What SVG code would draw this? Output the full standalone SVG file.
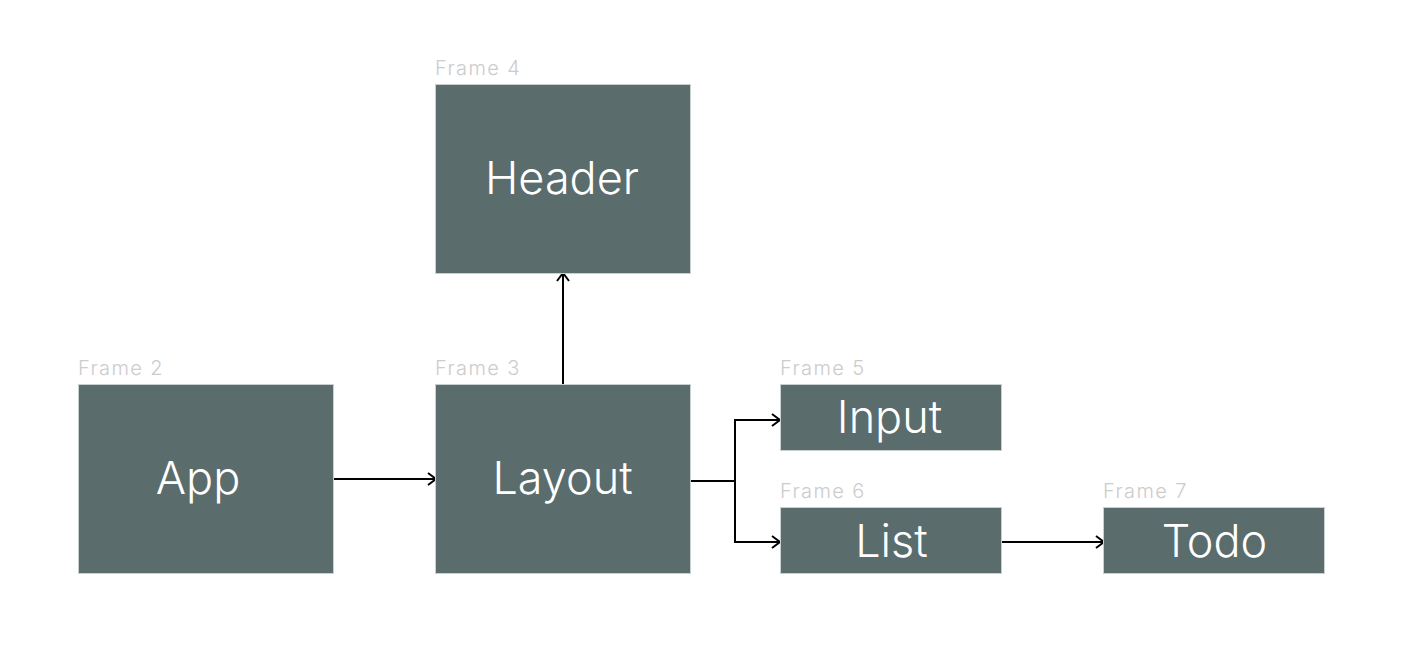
<svg xmlns="http://www.w3.org/2000/svg" width="1422" height="646" viewBox="0 0 1422 646">
<style>
.box{fill:#5a6c6c;stroke:#c9d0d0;stroke-width:1}
.lbl{font-family:Inter,"Liberation Sans",sans-serif;font-size:45px;font-weight:300;fill:#ffffff;text-anchor:middle}
.frm{font-family:Inter,"Liberation Sans",sans-serif;font-size:20px;font-weight:300;letter-spacing:1.4px;fill:#cccccc}
.con{fill:none;stroke:#000;stroke-width:2;marker-end:url(#arr)}
</style>
<defs>
<marker id="arr" viewBox="0 0 10 14" refX="9" refY="7" markerWidth="10" markerHeight="14" markerUnits="userSpaceOnUse" orient="auto">
<path d="M1,1 L9,7 L1,13" fill="none" stroke="#000" stroke-width="2"/>
</marker>
</defs>
<rect width="1422" height="646" fill="#ffffff"/>
<g id="connectors">
<path class="con" d="M333,479 H436"/>
<path class="con" d="M563,384 V273"/>
<path class="con" d="M690,481 H735 V420 H780"/>
<path class="con" d="M690,481 H735 V542 H780"/>
<path class="con" d="M1001,542 H1104"/>
</g>
<g id="frame2">
<text class="frm" x="78" y="375">Frame 2</text>
<rect class="box" x="78.5" y="384.5" width="255" height="189"/>
<text class="lbl" x="198" y="494">App</text>
</g>
<g id="frame3">
<text class="frm" x="435" y="375">Frame 3</text>
<rect class="box" x="435.5" y="384.5" width="255" height="189"/>
<text class="lbl" x="562.5" y="494">Layout</text>
</g>
<g id="frame4">
<text class="frm" x="435" y="75">Frame 4</text>
<rect class="box" x="435.5" y="84.5" width="255" height="189"/>
<text class="lbl" x="562" y="194">Header</text>
</g>
<g id="frame5">
<text class="frm" x="780" y="375">Frame 5</text>
<rect class="box" x="780.5" y="384.5" width="221" height="66"/>
<text class="lbl" x="889.5" y="433">Input</text>
</g>
<g id="frame6">
<text class="frm" x="780" y="498">Frame 6</text>
<rect class="box" x="780.5" y="507.5" width="221" height="66"/>
<text class="lbl" x="891.5" y="557">List</text>
</g>
<g id="frame7">
<text class="frm" x="1103" y="498">Frame 7</text>
<rect class="box" x="1103.5" y="507.5" width="221" height="66"/>
<text class="lbl" x="1214.5" y="557">Todo</text>
</g>
</svg>
